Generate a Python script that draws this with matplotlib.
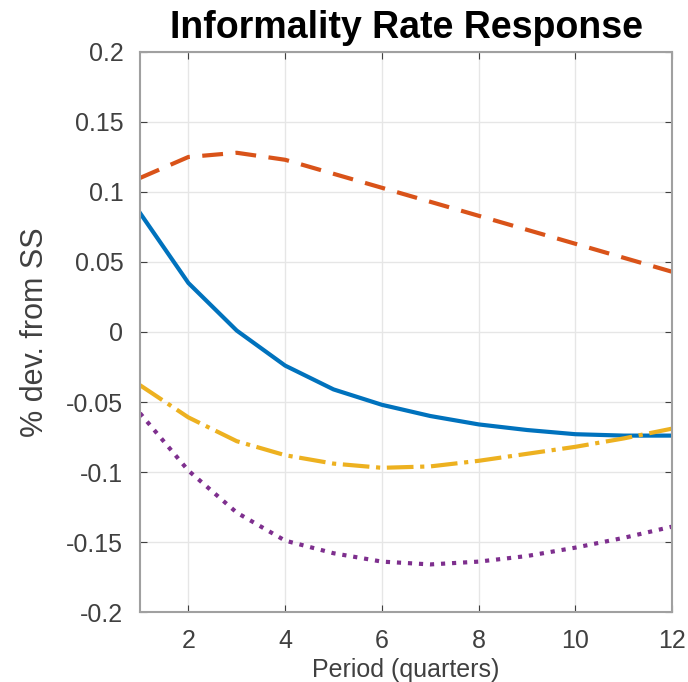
import numpy as np
import matplotlib
matplotlib.use("Agg")
import matplotlib.pyplot as plt

plt.rcParams['font.family'] = ['Liberation Sans', 'DejaVu Sans']

period = np.arange(1, 13)
blue   = [0.085, 0.035, 0.001, -0.024, -0.041, -0.052, -0.060, -0.066, -0.070, -0.073, -0.074, -0.074]
red    = [0.110, 0.125, 0.128, 0.123, 0.113, 0.103, 0.093, 0.083, 0.073, 0.063, 0.053, 0.043]
yellow = [-0.038, -0.061, -0.078, -0.088, -0.094, -0.097, -0.096, -0.092, -0.087, -0.082, -0.076, -0.069]
purple = [-0.058, -0.099, -0.129, -0.149, -0.158, -0.164, -0.166, -0.164, -0.160, -0.154, -0.147, -0.139]

c_blue   = (0.0, 0.447, 0.741)
c_red    = (0.85, 0.325, 0.098)
c_yellow = (0.929, 0.694, 0.125)
c_purple = (0.494, 0.184, 0.556)

fig = plt.figure(figsize=(6.88, 6.82), dpi=100)
ax = fig.add_axes([0.2035, 0.1026, 0.7735, 0.8212])

ax.plot(period, blue, '-', color=c_blue, lw=3)
ax.plot(period, red, '--', color=c_red, lw=3, dashes=(5, 3))
ax.plot(period, yellow, '-.', color=c_yellow, lw=3)
ax.plot(period, purple, ':', color=c_purple, lw=3)

ax.set_xlim(1, 12)
ax.set_ylim(-0.2, 0.2)
ax.set_xticks([2, 4, 6, 8, 10, 12])
ax.set_yticks(np.arange(-0.2, 0.201, 0.05))
ax.set_yticklabels(['-0.2', '-0.15', '-0.1', '-0.05', '0', '0.05', '0.1', '0.15', '0.2'])
ax.grid(True, color='#e6e6e6', lw=1)
ax.set_axisbelow(True)
for s in ax.spines.values():
    s.set_color('#a0a0a0')
    s.set_linewidth(1.5)
ax.tick_params(direction='in', right=True, top=True, colors='#404040',
               labelsize=18, length=5)
ax.tick_params(axis='x', pad=12)
ax.tick_params(axis='y', pad=12)

ax.set_title('Informality Rate Response', fontsize=27, fontweight='bold', pad=10)
ax.set_xlabel('Period (quarters)', fontsize=18, color='#404040', labelpad=4)
ax.set_ylabel('% dev. from SS', fontsize=22, color='#404040', labelpad=12)

fig.savefig('out.png', dpi=100)
